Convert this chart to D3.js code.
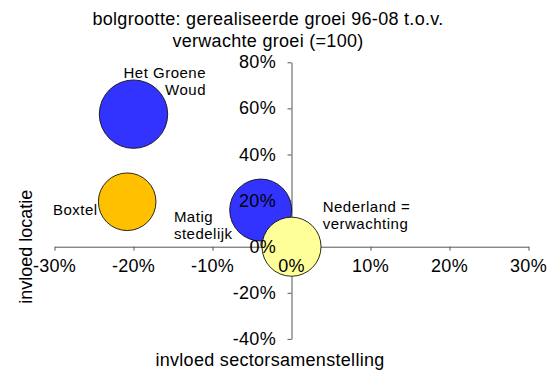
<!DOCTYPE html>
<html>
<head>
<meta charset="utf-8">
<script src="https://cdn.jsdelivr.net/npm/d3@7"></script>
<style>
  html, body { margin: 0; padding: 0; background: #fff; }
  svg { display: block; font-family: "Liberation Sans", Arial, sans-serif; }
</style>
</head>
<body>
<svg id="chart" width="553" height="372"></svg>
<script>
// Regions: sector effect (x, %), location effect (y, %), realised vs expected growth (bubble size, expected = 100)
const regions     = ["Het Groene Woud", "Boxtel", "Matig stedelijk", "Nederland"];
const sectorEffect   = [-20, -20.8, -3.9, 0];
const locationEffect = [57.5, 19.5, 15.9, 0];
const growthIndex    = [134, 95, 110, 100];
const bubbleColors   = ["#3333FF", "#FFC000", "#3333FF", "#FFFF99"];

// Label lines for each bubble
const labelLines = [["Het Groene", "Woud"], ["Boxtel"], ["Matig", "stedelijk"], ["Nederland =", "verwachting"]];

const xTicks = [-30, -20, -10, 0, 10, 20, 30];
const yTicks = [-40, -20, 0, 20, 40, 60, 80];

const titleLines = ["bolgrootte: gerealiseerde groei 96-08 t.o.v.", "verwachte groei (=100)"];
const xTitle = "invloed sectorsamenstelling";
const yTitle = "invloed locatie";

const svg = d3.select("#chart");

const x = d3.scaleLinear().domain([-30, 30]).range([54.5, 528.5]);
const y = d3.scaleLinear().domain([-40, 80]).range([338.9, 62.3]);
const r = d3.scaleSqrt().domain([0, d3.max(growthIndex)]).range([0, 34.2]);

const pct = d => d + "%";
const bigFont = { size: "18px", spacing: "0.3px" };
const smallFont = { size: "15px", spacing: "0.5px" };

// Axis lines and tick marks (beneath the bubbles)
const axisLayer = svg.append("g");
axisLayer.append("g")
  .attr("transform", `translate(0,${y(0)})`)
  .call(d3.axisBottom(x).tickValues(xTicks).tickSize(4).tickSizeOuter(0).tickFormat(""));
axisLayer.append("g")
  .attr("transform", `translate(${x(0)},0)`)
  .call(d3.axisLeft(y).tickValues(yTicks).tickSize(4).tickSizeOuter(0).tickFormat(""));
axisLayer.selectAll(".domain, .tick line").attr("stroke", "#555").attr("stroke-width", 1);
axisLayer.selectAll(".tick text").remove();

// Bubbles
const data = regions.map((name, i) => ({
  name, sx: sectorEffect[i], ly: locationEffect[i], g: growthIndex[i],
  color: bubbleColors[i], lines: labelLines[i]
}));

svg.append("g").selectAll("circle")
  .data(data)
  .join("circle")
  .attr("cx", d => x(d.sx))
  .attr("cy", d => y(d.ly))
  .attr("r", d => r(d.g))
  .attr("fill", d => d.color)
  .attr("stroke", "#111")
  .attr("stroke-width", 0.9);

// Tick labels (drawn over the bubbles)
const labelLayer = svg.append("g")
  .attr("font-size", bigFont.size)
  .attr("letter-spacing", bigFont.spacing)
  .attr("fill", "#000");

labelLayer.selectAll("text.xt")
  .data(xTicks)
  .join("text")
  .attr("class", "xt")
  .attr("x", d => x(d))
  .attr("y", y(0) + 25.5)
  .attr("text-anchor", "middle")
  .text(pct);

labelLayer.selectAll("text.yt")
  .data(yTicks)
  .join("text")
  .attr("class", "yt")
  .attr("x", x(0) - 15.5)
  .attr("y", d => y(d) + 6)
  .attr("text-anchor", "end")
  .text(pct);

// Bubble labels, placed relative to each bubble centre
const labelOffsets = [
  { dx: 72.5, dy: -36, anchor: "end" },
  { dx: -29.5, dy: 13.3, anchor: "end" },
  { dx: -86.8, dy: 11.7, anchor: "start" },
  { dx: 31.2, dy: -34.7, anchor: "start" }
];

const bubbleLabels = svg.append("g")
  .attr("font-size", smallFont.size)
  .attr("letter-spacing", smallFont.spacing)
  .attr("fill", "#000");

data.forEach((d, i) => {
  const o = labelOffsets[i];
  const t = bubbleLabels.append("text")
    .attr("text-anchor", o.anchor);
  d.lines.forEach((line, j) => {
    t.append("tspan")
      .attr("x", x(d.sx) + o.dx)
      .attr("y", y(d.ly) + o.dy + j * 17.2)
      .text(line);
  });
});

// Title
const title = svg.append("text")
  .attr("text-anchor", "middle")
  .attr("font-size", bigFont.size)
  .attr("letter-spacing", bigFont.spacing);
titleLines.forEach((line, j) => {
  title.append("tspan").attr("x", 268).attr("y", 25 + j * 22).text(line);
});

// Axis titles
svg.append("text")
  .attr("x", 270)
  .attr("y", 365.5)
  .attr("text-anchor", "middle")
  .attr("font-size", bigFont.size)
  .attr("letter-spacing", bigFont.spacing)
  .text(xTitle);

svg.append("text")
  .attr("transform", `translate(31.5,${y(0)}) rotate(-90)`)
  .attr("text-anchor", "middle")
  .attr("font-size", bigFont.size)
  .text(yTitle);
</script>
</body>
</html>
